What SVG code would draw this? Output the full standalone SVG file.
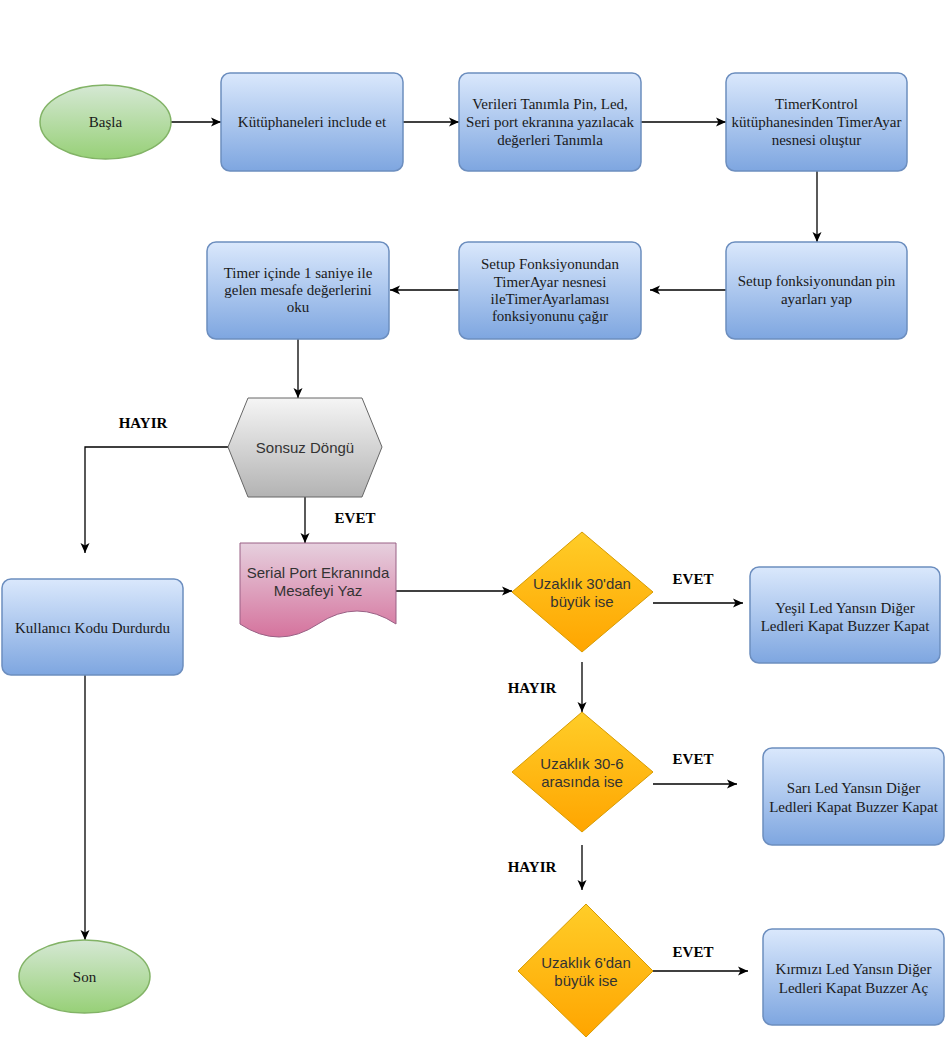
<svg xmlns="http://www.w3.org/2000/svg" width="945" height="1038" viewBox="0 0 945 1038">
<defs>
<linearGradient id="gBlue" x1="0" y1="0" x2="0" y2="1"><stop offset="0" stop-color="#dae8fc"/><stop offset="1" stop-color="#7ea6e0"/></linearGradient>
<linearGradient id="gGreen" x1="0" y1="0" x2="0" y2="1"><stop offset="0" stop-color="#d5e8d4"/><stop offset="1" stop-color="#97d077"/></linearGradient>
<linearGradient id="gOrange" x1="0" y1="0" x2="0" y2="1"><stop offset="0" stop-color="#ffcd28"/><stop offset="1" stop-color="#ffa500"/></linearGradient>
<linearGradient id="gGray" x1="0" y1="0" x2="0" y2="1"><stop offset="0" stop-color="#f5f5f5"/><stop offset="1" stop-color="#b3b3b3"/></linearGradient>
<linearGradient id="gPink" x1="0" y1="0" x2="0" y2="1"><stop offset="0" stop-color="#e6d0de"/><stop offset="1" stop-color="#d5739d"/></linearGradient>
<marker id="arr" markerUnits="userSpaceOnUse" markerWidth="12" markerHeight="12" refX="11" refY="6" orient="auto">
<path d="M1,1.5 L11,6 L1,10.5 L3.5,6 Z" fill="#000"/>
</marker>
</defs>
<style>
.box{fill:url(#gBlue);stroke:#6c8ebf;stroke-width:1.5}
.term{fill:url(#gGreen);stroke:#82b366;stroke-width:1.5}
.dec{fill:url(#gOrange);stroke:#d79b00;stroke-width:1}
.hex{fill:url(#gGray);stroke:#666666;stroke-width:1}
.doc{fill:url(#gPink);stroke:#996185;stroke-width:1}
.st{font-family:"Liberation Serif","Times New Roman",serif;font-size:15px;fill:#1a1a1a;text-anchor:middle;dominant-baseline:central}
.sa{font-family:"Liberation Sans",Arial,sans-serif;font-size:15px;fill:#333333;text-anchor:middle;dominant-baseline:central}
.lb{font-family:"Liberation Serif","Times New Roman",serif;font-size:15px;font-weight:bold;fill:#000;text-anchor:middle;dominant-baseline:central}
.cn{fill:none;stroke:#000;stroke-width:1.3;marker-end:url(#arr)}
</style>

<g id="connectors">
<path class="cn" d="M171,122 H221"/>
<path class="cn" d="M403,122 H459"/>
<path class="cn" d="M641,122 H726"/>
<path class="cn" d="M817,171 V242"/>
<path class="cn" d="M726,290 H650"/>
<path class="cn" d="M459,290 H390"/>
<path class="cn" d="M298,339 V398"/>
<path class="cn" d="M228,447 H85 V553"/>
<path class="cn" d="M305,497 V543"/>
<path class="cn" d="M396,591 H512"/>
<path class="cn" d="M653,603 H743"/>
<path class="cn" d="M582,662 V712"/>
<path class="cn" d="M653,784 H737"/>
<path class="cn" d="M582,845 V890"/>
<path class="cn" d="M653,971 H748"/>
<path class="cn" d="M85,675 V940"/>
</g>

<g id="labels">
<text class="lb" x="143" y="423">HAYIR</text>
<text class="lb" x="355" y="518">EVET</text>
<text class="lb" x="693" y="579">EVET</text>
<text class="lb" x="532" y="688">HAYIR</text>
<text class="lb" x="693" y="759">EVET</text>
<text class="lb" x="532" y="867">HAYIR</text>
<text class="lb" x="693" y="952">EVET</text>
</g>

<g id="basla">
<ellipse class="term" cx="105.5" cy="122" rx="65.5" ry="37"/>
<text class="st" x="105.5" y="122">Başla</text>
</g>

<g id="kutuphane">
<rect class="box" x="221" y="73" width="182" height="98" rx="9"/>
<text class="st" x="312" y="122">Kütüphaneleri include et</text>
</g>

<g id="verileri">
<rect class="box" x="459" y="73" width="182" height="98" rx="9"/>
<text class="st" x="550" y="104">Verileri Tanımla Pin, Led,</text>
<text class="st" x="550" y="122">Seri port ekranına yazılacak</text>
<text class="st" x="550" y="140">değerleri Tanımla</text>
</g>

<g id="timerkontrol">
<rect class="box" x="726" y="73" width="181" height="98" rx="9"/>
<text class="st" x="816.5" y="104">TimerKontrol</text>
<text class="st" x="816.5" y="122">kütüphanesinden TimerAyar</text>
<text class="st" x="816.5" y="140">nesnesi oluştur</text>
</g>

<g id="setuppin">
<rect class="box" x="726" y="242" width="181" height="97" rx="9"/>
<text class="st" x="816.5" y="281">Setup fonksiyonundan pin</text>
<text class="st" x="816.5" y="299">ayarları yap</text>
</g>

<g id="setupfonk">
<rect class="box" x="459" y="242" width="182" height="97" rx="9"/>
<text class="st" x="550" y="264">Setup Fonksiyonundan</text>
<text class="st" x="550" y="282">TimerAyar nesnesi</text>
<text class="st" x="550" y="299">ileTimerAyarlaması</text>
<text class="st" x="550" y="316">fonksiyonunu çağır</text>
</g>

<g id="timeroku">
<rect class="box" x="207" y="242" width="182" height="97" rx="9"/>
<text class="st" x="298" y="273">Timer içinde 1 saniye ile</text>
<text class="st" x="298" y="290">gelen mesafe değerlerini</text>
<text class="st" x="298" y="307">oku</text>
</g>

<g id="sonsuz">
<polygon class="hex" points="228,447 248,398 362,398 382,447 362,497 248,497"/>
<text class="sa" x="305" y="447">Sonsuz Döngü</text>
</g>

<g id="serial">
<path class="doc" d="M240,543 H396 V624 Q357,598 318,624 Q279,650 240,624 Z"/>
<text class="sa" x="318" y="572">Serial Port Ekranında</text>
<text class="sa" x="318" y="590">Mesafeyi Yaz</text>
</g>

<g id="kullanici">
<rect class="box" x="2" y="579" width="181" height="96" rx="9"/>
<text class="st" x="92.5" y="628">Kullanıcı Kodu Durdurdu</text>
</g>

<g id="son">
<ellipse class="term" cx="84.5" cy="976.5" rx="65.5" ry="36.5"/>
<text class="st" x="84.5" y="977">Son</text>
</g>

<g id="uzak30">
<polygon class="dec" points="582,532 653,592 582,652 512,592"/>
<text class="sa" x="582" y="583">Uzaklık 30'dan</text>
<text class="sa" x="582" y="601">büyük ise</text>
</g>

<g id="yesil">
<rect class="box" x="750" y="567" width="190" height="96" rx="9"/>
<text class="st" x="845" y="608">Yeşil Led Yansın Diğer</text>
<text class="st" x="845" y="626">Ledleri Kapat Buzzer Kapat</text>
</g>

<g id="uzak306">
<polygon class="dec" points="582,712 653,772 582,832 512,772"/>
<text class="sa" x="582" y="763">Uzaklık 30-6</text>
<text class="sa" x="582" y="781">arasında ise</text>
</g>

<g id="sari">
<rect class="box" x="763" y="748" width="181" height="97" rx="9"/>
<text class="st" x="853.5" y="788">Sarı Led Yansın Diğer</text>
<text class="st" x="853.5" y="807">Ledleri Kapat Buzzer Kapat</text>
</g>

<g id="uzak6">
<polygon class="dec" points="586,904 653,971 586,1037 518,971"/>
<text class="sa" x="586" y="962">Uzaklık 6'dan</text>
<text class="sa" x="586" y="980">büyük ise</text>
</g>

<g id="kirmizi">
<rect class="box" x="763" y="929" width="181" height="96" rx="9"/>
<text class="st" x="853.5" y="969">Kırmızı Led Yansın Diğer</text>
<text class="st" x="853.5" y="988">Ledleri Kapat Buzzer Aç</text>
</g>
</svg>
